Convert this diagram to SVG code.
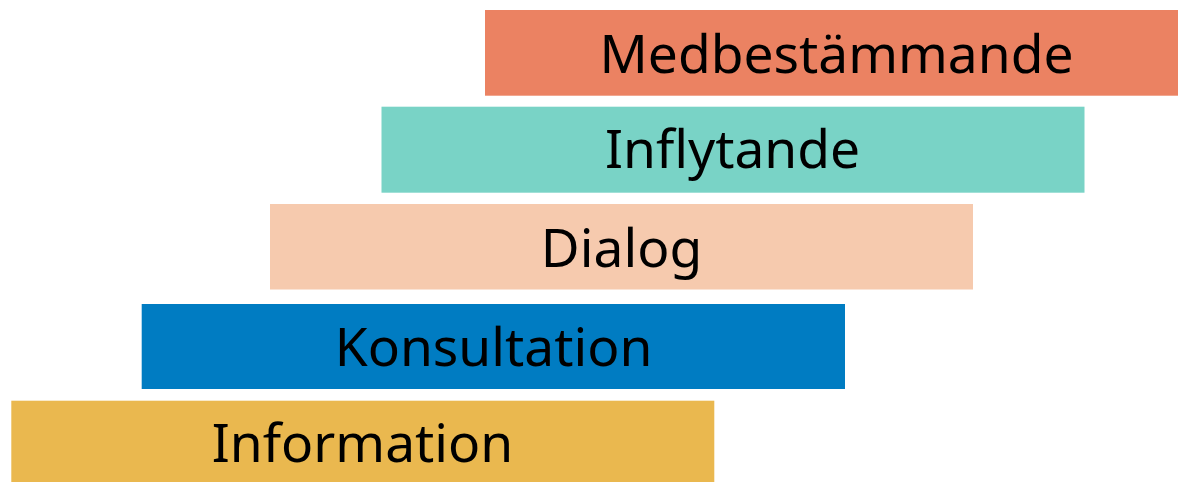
<svg xmlns="http://www.w3.org/2000/svg" width="1178" height="482" viewBox="0 0 1178 482">
<style>
text{font-family:"Noto Sans","Open Sans","Liberation Sans",sans-serif;font-size:53.3px;fill:#000;text-anchor:middle}
</style>
<rect width="1178" height="482" fill="#fff"/>
<g id="medbestammande"><rect x="485" y="10" width="693" height="85.7" fill="#EB8262"/><text x="836.5" y="73">Medbestämmande</text></g>
<g id="inflytande"><rect x="381.5" y="106.7" width="703" height="86" fill="#79D3C6"/><text x="732.5" y="168">Inflytande</text></g>
<g id="dialog"><rect x="270" y="204" width="703" height="85.5" fill="#F6CAAE"/><text x="621.5" y="267">Dialog</text></g>
<g id="konsultation"><rect x="141.7" y="304" width="703.3" height="85" fill="#007CC2"/><text x="493.5" y="366">Konsultation</text></g>
<g id="information"><rect x="11.3" y="400.7" width="703" height="81.3" fill="#EAB84F"/><text x="362.5" y="462">Information</text></g>
<g id="connectors"/>
</svg>
